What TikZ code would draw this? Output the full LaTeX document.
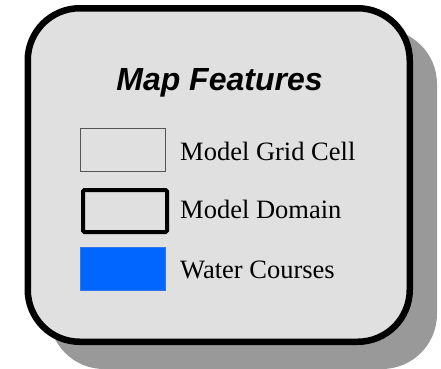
\documentclass[tikz,border=0pt]{standalone}
\usepackage{fontspec}
\setmainfont{Liberation Serif}
\newfontfamily\titlefont{Liberation Sans}
\definecolor{boxfill}{HTML}{E0E0E0}
\definecolor{shadowgray}{HTML}{999999}
\definecolor{water}{HTML}{0066FF}
\definecolor{waterline}{HTML}{3377EE}
\definecolor{cellline}{HTML}{555555}
\begin{document}
\begin{tikzpicture}[x=1pt,y=-1pt,
  legendtext/.style={anchor=base west, inner sep=0pt, font=\fontsize{26.5}{30}\selectfont},
  swatch/.style={draw, minimum width=85pt, minimum height=43pt, inner sep=0pt, anchor=north west}]
\useasboundingbox (0,0) rectangle (441,368);
\begin{scope}
\clip (0,0) rectangle (441,368);
\fill[shadowgray, rounded corners=55pt] (49,29) rectangle (437,369);
\end{scope}
\draw[line width=6.5pt, fill=boxfill, rounded corners=52pt] (27.75,8.25) rectangle (409.75,341.75);
\node[anchor=base, inner sep=0pt, font=\titlefont\bfseries\itshape\fontsize{32}{36}\selectfont] (title) at (219.5,90) {Map Features};
\node[swatch, draw=cellline, line width=0.8pt, fill=boxfill] (cell) at (80,128) {};
\node[swatch, draw=black, line width=4pt, fill=boxfill, rounded corners=1.5pt, minimum width=84pt, minimum height=42pt] (domain) at (81,188) {};
\node[swatch, draw=waterline, line width=0.8pt, fill=water] (waterc) at (80,247) {};
\node[legendtext] (l1) at (180,160) {Model Grid Cell};
\node[legendtext] (l2) at (180,218) {Model Domain};
\node[legendtext] (l3) at (180,278) {Water Courses};
\end{tikzpicture}
\end{document}
